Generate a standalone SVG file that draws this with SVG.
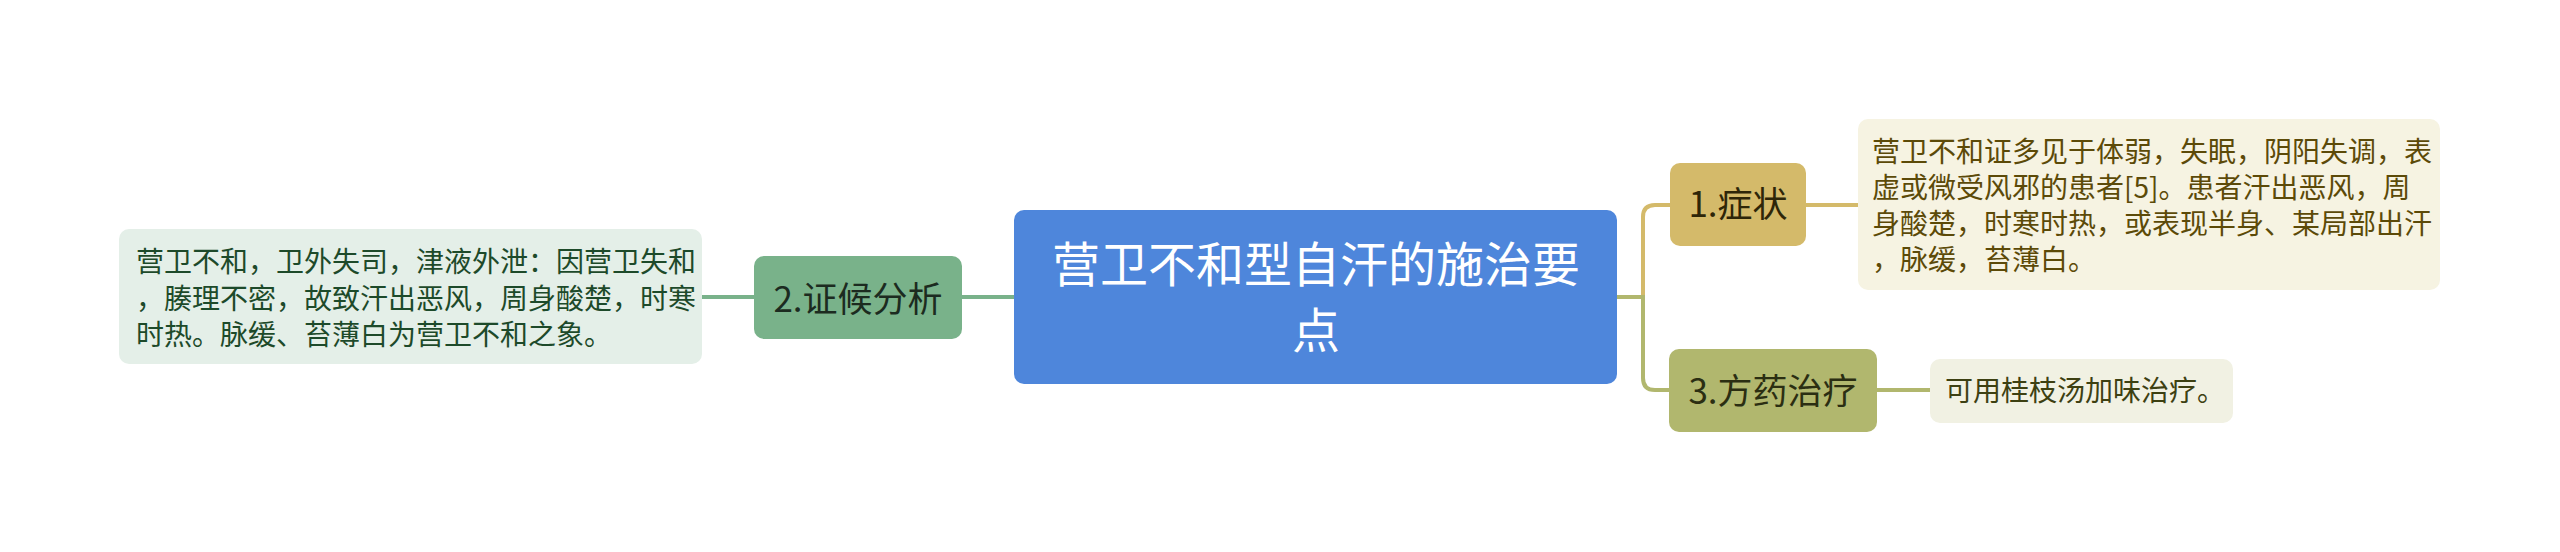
<svg xmlns="http://www.w3.org/2000/svg" width="2560" height="552" viewBox="0 0 2560 552">
<style>
text{font-family:"Noto Sans CJK SC","Noto Sans",sans-serif;}
.c{fill:none;stroke-width:4;stroke-linecap:butt;}
.g{stroke:#79b28a;}
.y{stroke:#d4ba6a;}
.o{stroke:#b1b76e;}
.node{font-size:35px;text-anchor:middle;}
.det{font-size:28px;}
</style>
<rect width="2560" height="552" fill="#ffffff"/>
<g id="connectors">
<path class="c g" d="M1014 297 H962"/>
<path class="c g" d="M754 297 H702"/>
<path class="c y" d="M1617 297 H1643 V217 Q1643 205 1655 205 H1670"/>
<path class="c o" d="M1617 297 H1643 V378 Q1643 390 1655 390 H1669"/>
<path class="c y" d="M1806 205 H1858"/>
<path class="c o" d="M1877 390 H1930"/>
</g>
<g id="center">
<rect x="1014" y="210" width="603" height="174" rx="10" fill="#4e86db"/>
<text x="1316" y="282" font-size="48" fill="#ffffff" text-anchor="middle">营卫不和型自汗的施治要</text>
<text x="1316" y="348" font-size="48" fill="#ffffff" text-anchor="middle">点</text>
</g>
<g id="n2">
<rect x="754" y="256" width="208" height="83" rx="10" fill="#79b28a"/>
<text class="node" x="858" y="312" fill="#1c2b20">2.证候分析</text>
</g>
<g id="d2">
<rect x="119" y="229" width="583" height="135" rx="10" fill="#e4efe8"/>
<text class="det" fill="#1d4a2a"><tspan x="136" y="272">营卫不和，卫外失司，津液外泄：因营卫失和</tspan><tspan x="136" y="308.5">，腠理不密，故致汗出恶风，周身酸楚，时寒</tspan><tspan x="136" y="345">时热。脉缓、苔薄白为营卫不和之象。</tspan></text>
</g>
<g id="n1">
<rect x="1670" y="163" width="136" height="83" rx="10" fill="#d4ba6a"/>
<text class="node" x="1738" y="217" fill="#2e2608">1.症状</text>
</g>
<g id="d1">
<rect x="1858" y="119" width="582" height="171" rx="10" fill="#f6f3e2"/>
<text class="det" fill="#5c4a08"><tspan x="1872" y="162">营卫不和证多见于体弱，失眠，阴阳失调，表</tspan><tspan x="1872" y="198">虚或微受风邪的患者[5]。患者汗出恶风，周</tspan><tspan x="1872" y="234">身酸楚，时寒时热，或表现半身、某局部出汗</tspan><tspan x="1872" y="270">，脉缓，苔薄白。</tspan></text>
</g>
<g id="n3">
<rect x="1669" y="349" width="208" height="83" rx="10" fill="#b1b76e"/>
<text class="node" x="1773" y="404" fill="#2b2e12">3.方药治疗</text>
</g>
<g id="d3">
<rect x="1930" y="359" width="303" height="64" rx="10" fill="#f1f1e3"/>
<text class="det" x="1945" y="401" fill="#3d4012">可用桂枝汤加味治疗。</text>
</g>
</svg>
